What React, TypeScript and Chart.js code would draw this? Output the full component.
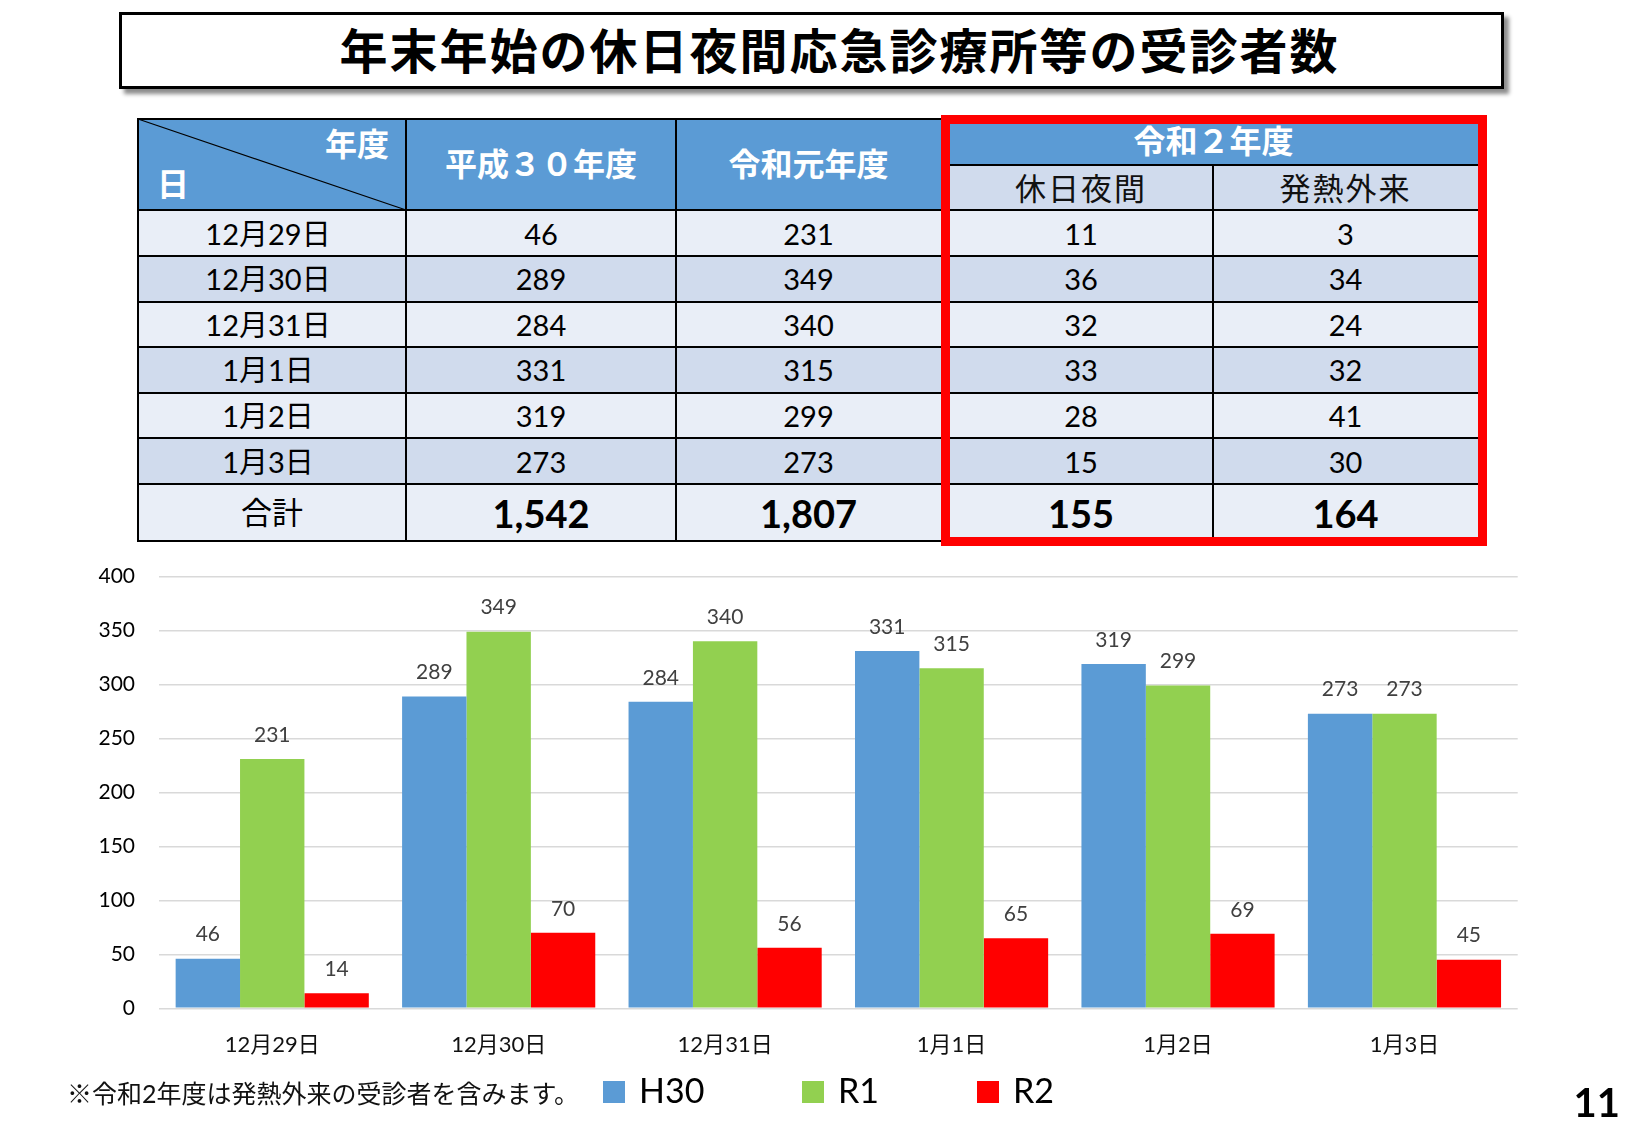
import React, { useEffect, useRef } from 'react';
import { Chart, registerables } from 'chart.js';

Chart.register(...registerables);

// ---------- data ----------
const categories = ['12月29日', '12月30日', '12月31日', '1月1日', '1月2日', '1月3日'];
const seriesNames = ['H30', 'R1', 'R2'];
const seriesColors = ['#5B9BD5', '#92D050', '#FF0000'];
const h30Values = [46, 289, 284, 331, 319, 273];
const r1Values = [231, 349, 340, 315, 299, 273];
const r2Values = [14, 70, 56, 65, 69, 45];
const r2HolidayValues = [11, 36, 32, 33, 28, 15];
const r2FeverValues = [3, 34, 24, 32, 41, 30];
const totalLabel = '合計';
const totalValues = ['1,542', '1,807', '155', '164'];
const yTickMin = 0;
const yTickMax = 400;
const yTickStep = 50;

const titleText = '年末年始の休日夜間応急診療所等の受診者数';
const headerCornerTop = '年度';
const headerCornerBottom = '日';
const headerYears = ['平成３０年度', '令和元年度'];
const headerR2 = '令和２年度';
const headerR2Sub = ['休日夜間', '発熱外来'];
const footnote = '※令和2年度は発熱外来の受診者を含みます。';
const pageNumber = '11';

// ---------- layout ----------
const FONT_JP = '"Noto Sans CJK JP", sans-serif';
const FONT_NUM = 'Lato, "Noto Sans CJK JP", sans-serif';
const COLX = [138, 406, 676, 945, 1213, 1479];
const ROWY = [119, 210, 256, 301.5, 347, 392.5, 438, 484, 541];
const R2_SPLIT_Y = 165;
const HEADER_BLUE = '#5B9BD5';
const BAND_LIGHT = '#E9EEF7';
const BAND_DARK = '#D0DBED';

type TextBoxProps = {
  x: number; y: number; w: number; h: number; text: string; size: number;
  bold?: boolean; color?: string; align?: 'left' | 'center' | 'right';
  family?: string; ls?: number;
};

function TextBox(p: TextBoxProps) {
  const justify = p.align === 'left' ? 'flex-start' : p.align === 'right' ? 'flex-end' : 'center';
  return (
    <div
      style={{
        position: 'absolute', left: p.x, top: p.y, width: p.w, height: p.h,
        display: 'flex', alignItems: 'center', justifyContent: justify,
        fontSize: p.size, fontWeight: p.bold ? 700 : 400, color: p.color || '#000',
        fontFamily: p.family || FONT_JP, lineHeight: 1, whiteSpace: 'nowrap',
        letterSpacing: p.ls ? p.ls : 0,
      }}
    >
      {p.text}
    </div>
  );
}

function Rect({ x, y, w, h, bg }: { x: number; y: number; w: number; h: number; bg: string }) {
  return <div style={{ position: 'absolute', left: x, top: y, width: w, height: h, background: bg }} />;
}

function DataTable() {
  const els: React.ReactNode[] = [];
  let k = 0;
  // header backgrounds
  els.push(<Rect key={k++} x={COLX[0]} y={ROWY[0]} w={COLX[3] - COLX[0]} h={ROWY[1] - ROWY[0]} bg={HEADER_BLUE} />);
  els.push(<Rect key={k++} x={COLX[3]} y={ROWY[0]} w={COLX[5] - COLX[3]} h={R2_SPLIT_Y - ROWY[0]} bg={HEADER_BLUE} />);
  els.push(<Rect key={k++} x={COLX[3]} y={R2_SPLIT_Y} w={COLX[5] - COLX[3]} h={ROWY[1] - R2_SPLIT_Y} bg={BAND_DARK} />);
  // body rows
  for (let r = 0; r < 7; r++) {
    const bg = r === 6 ? BAND_LIGHT : r % 2 === 0 ? BAND_LIGHT : BAND_DARK;
    els.push(<Rect key={k++} x={COLX[0]} y={ROWY[r + 1]} w={COLX[5] - COLX[0]} h={ROWY[r + 2] - ROWY[r + 1]} bg={bg} />);
  }
  // diagonal
  els.push(
    <svg key={k++} style={{ position: 'absolute', left: 0, top: 0 }} width={1625} height={600}>
      <line x1={COLX[0]} y1={ROWY[0]} x2={COLX[1]} y2={ROWY[1]} stroke="#000" strokeWidth={1.3} />
    </svg>
  );
  // lines
  const hLine = (y: number, x1: number, x2: number) =>
    els.push(<Rect key={k++} x={x1 - 1} y={y - 1} w={x2 - x1 + 2} h={2} bg="#000" />);
  const vLine = (x: number, y1: number, y2: number) =>
    els.push(<Rect key={k++} x={x - 1} y={y1 - 1} w={2} h={y2 - y1 + 2} bg="#000" />);
  hLine(ROWY[0], COLX[0], COLX[3]);
  for (let i = 1; i < ROWY.length; i++) hLine(ROWY[i], COLX[0], COLX[5]);
  hLine(R2_SPLIT_Y, COLX[3], COLX[5]);
  vLine(COLX[0], ROWY[0], ROWY[8]);
  vLine(COLX[1], ROWY[0], ROWY[8]);
  vLine(COLX[2], ROWY[0], ROWY[8]);
  vLine(COLX[4], R2_SPLIT_Y, ROWY[8]);

  // header texts
  els.push(<TextBox key={k++} x={COLX[0]} y={122} w={389 - COLX[0]} h={40} text={headerCornerTop} size={32} bold color="#fff" align="right" />);
  els.push(<TextBox key={k++} x={157} y={162} w={60} h={40} text={headerCornerBottom} size={32} bold color="#fff" align="left" />);
  els.push(<TextBox key={k++} x={COLX[1]} y={ROWY[0] - 3} w={COLX[2] - COLX[1]} h={ROWY[1] - ROWY[0]} text={headerYears[0]} size={32} bold color="#fff" />);
  els.push(<TextBox key={k++} x={COLX[2]} y={ROWY[0] - 3} w={941 - COLX[2]} h={ROWY[1] - ROWY[0]} text={headerYears[1]} size={32} bold color="#fff" />);
  els.push(<TextBox key={k++} x={949} y={117} w={1478 - 949} h={R2_SPLIT_Y - 122} text={headerR2} size={32} bold color="#fff" />);
  els.push(<TextBox key={k++} x={949} y={R2_SPLIT_Y - 1} w={COLX[4] - 949} h={ROWY[1] - R2_SPLIT_Y} text={headerR2Sub[0]} size={31} ls={2} color="#111" />);
  els.push(<TextBox key={k++} x={COLX[4]} y={R2_SPLIT_Y - 1} w={1478 - COLX[4]} h={ROWY[1] - R2_SPLIT_Y} text={headerR2Sub[1]} size={31} ls={2} color="#111" />);

  // body texts
  const colBounds: [number, number][] = [
    [COLX[0], COLX[1]], [COLX[1], COLX[2]], [COLX[2], 941], [949, COLX[4]], [COLX[4], 1478],
  ];
  const cols = [h30Values, r1Values, r2HolidayValues, r2FeverValues];
  categories.forEach((c, r) => {
    const y = ROWY[r + 1];
    const h = ROWY[r + 2] - y;
    els.push(<TextBox key={k++} x={colBounds[0][0] - 4} y={y} w={colBounds[0][1] - colBounds[0][0]} h={h} text={c} size={29} family={FONT_NUM} />);
    cols.forEach((arr, ci) => {
      const [a, b] = colBounds[ci + 1];
      els.push(<TextBox key={k++} x={a} y={y} w={b - a} h={h} text={String(arr[r])} size={29} family={FONT_NUM} />);
    });
  });
  {
    const y = ROWY[7];
    const h = ROWY[8] - y;
    els.push(<TextBox key={k++} x={colBounds[0][0]} y={y - 2} w={colBounds[0][1] - colBounds[0][0]} h={h} text={totalLabel} size={31} />);
    totalValues.forEach((t, ci) => {
      const [a, b] = colBounds[ci + 1];
      els.push(<TextBox key={k++} x={a} y={y} w={b - a} h={h} text={t} size={38} bold family={FONT_NUM} />);
    });
  }
  // red frame
  els.push(
    <div key={k++} style={{ position: 'absolute', left: 941, top: 115, width: 546, height: 431, border: '9px solid #FF0000', boxSizing: 'border-box' }} />
  );
  return <>{els}</>;
}

const barLabelPlugin = {
  id: 'barLabels',
  afterDatasetsDraw(chart: any) {
    const ctx = chart.ctx;
    ctx.save();
    ctx.font = '21px Lato, "Noto Sans CJK JP"';
    ctx.fillStyle = '#404040';
    ctx.textAlign = 'center';
    ctx.textBaseline = 'middle';
    chart.data.datasets.forEach((ds: any, i: number) => {
      const meta = chart.getDatasetMeta(i);
      meta.data.forEach((el: any, j: number) => {
        ctx.fillText(String(ds.data[j]), el.x, el.y - 24);
      });
    });
    ctx.restore();
  },
};

function BarChart() {
  const ref = useRef<HTMLCanvasElement | null>(null);
  useEffect(() => {
    if (!ref.current) return;
    const values = [h30Values, r1Values, r2Values];
    const chart = new Chart(ref.current, {
      type: 'bar',
      data: {
        labels: categories,
        datasets: seriesNames.map((name, i) => ({
          label: name,
          data: values[i],
          backgroundColor: seriesColors[i],
          borderWidth: 0,
          categoryPercentage: 0.853,
          barPercentage: 1.0,
        })),
      },
      options: {
        animation: false,
        responsive: false,
        maintainAspectRatio: false,
        layout: { padding: { left: 0, right: 107.3, top: 36.5, bottom: 11.7 } },
        plugins: { legend: { display: false }, tooltip: { enabled: false }, title: { display: false } },
        scales: {
          x: {
            grid: { display: false, drawTicks: false },
            border: { display: false },
            ticks: { font: { family: FONT_NUM, size: 22 }, color: '#111', padding: 23.5 },
            afterFit: (s: any) => { s.height = 60; },
          },
          y: {
            min: yTickMin,
            max: yTickMax,
            ticks: { stepSize: yTickStep, font: { family: FONT_NUM, size: 21 }, color: '#000', padding: 24 },
            grid: { color: '#D9D9D9', lineWidth: 1.5, drawTicks: false },
            border: { display: false },
            afterFit: (s: any) => { s.width = 159; },
          },
        },
      },
      plugins: [barLabelPlugin],
    } as any);
    return () => chart.destroy();
  }, []);
  return (
    <canvas
      ref={ref}
      width={1625}
      height={540}
      style={{ position: 'absolute', left: 0, top: 540, width: 1625, height: 540, display: 'block' }}
    />
  );
}

function Legend() {
  const boxX = [603, 802, 977];
  return (
    <>
      {seriesNames.map((n, i) => (
        <React.Fragment key={n}>
          <div style={{ position: 'absolute', left: boxX[i], top: 1081, width: 22, height: 22, background: seriesColors[i] }} />
          <TextBox x={boxX[i] + 36} y={1070} w={120} h={40} text={n} size={34} align="left" family={FONT_NUM} />
        </React.Fragment>
      ))}
    </>
  );
}

export default function App() {
  return (
    <div style={{ position: 'absolute', left: 0, top: 0, width: 1625, height: 1125, background: '#fff', overflow: 'hidden' }}>
      <div
        style={{
          position: 'absolute', left: 119, top: 12, width: 1385, height: 77,
          border: '3px solid #000', boxSizing: 'border-box', background: '#fff',
          boxShadow: '5px 5px 4px rgba(0,0,0,0.45)',
        }}
      />
      <TextBox x={147} y={9} w={1385} h={77} text={titleText} size={48} bold ls={2} />
      <DataTable />
      <BarChart />
      <Legend />
      <TextBox x={67} y={1076} w={580} h={34} text={footnote} size={25} align="left" family={FONT_NUM} color="#111" />
      <TextBox x={1500} y={1082} w={120} h={40} text={pageNumber} size={40} bold align="right" family={FONT_NUM} />
    </div>
  );
}
